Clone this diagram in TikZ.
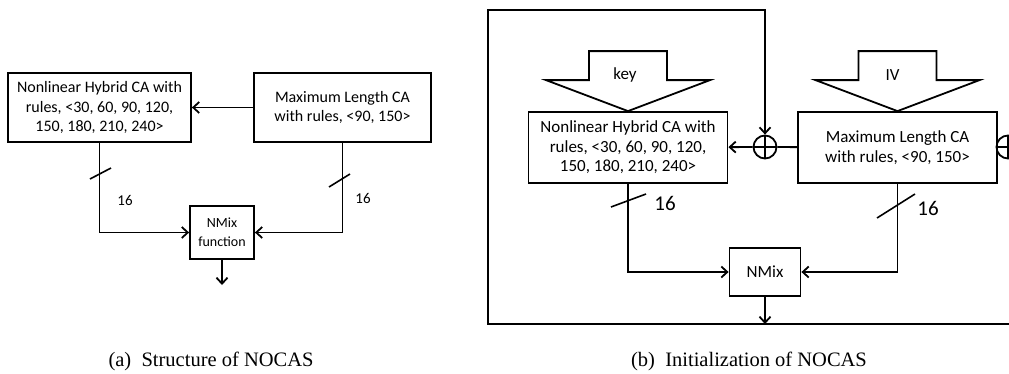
\documentclass[tikz,border=0pt]{standalone}
\usepackage{fontspec}
\setmainfont{Carlito}
\newfontfamily\capfont{Liberation Serif}
\usepackage{tikz}
\usetikzlibrary{arrows.meta, positioning, calc}

\begin{document}
\begin{tikzpicture}[
    x=1pt, y=-1pt,
    box/.style={draw, line width=1.8pt, align=center, inner sep=0pt, font=\fontsize{16}{19.5}\selectfont},
    bbox/.style={box, minimum width=199, minimum height=71, font=\fontsize{17}{19.5}\selectfont},
    xor/.style={draw, line width=1.8pt, circle, minimum size=23, inner sep=0pt,
        path picture={\draw[line width=1.8pt] (path picture bounding box.north) -- (path picture bounding box.south)
            (path picture bounding box.west) -- (path picture bounding box.east);}},
    arrow/.style={-{Straight Barb[length=6pt, width=11pt]}, line width=1.8pt},
    wire/.style={line width=1.8pt},
    slash/.style={line width=1.6pt},
    inport/.style={draw, line width=1.8pt},
    buswidth/.style={font=\fontsize{15}{15}\selectfont},
    caption/.style={font=\capfont\fontsize{20.5}{20.5}\selectfont}
]
    \path[use as bounding box, fill=white] (0,0) rectangle (1009,373);
    \clip (0,0) rectangle (1009,373);

    % === (a) Structure ===
    \node[box, minimum width=183, minimum height=69] (nlhA) at (99.5,107.5) {Nonlinear Hybrid CA with\\rules, <30, 60, 90, 120,\\150, 180, 210, 240>};
    \node[box, minimum width=177, minimum height=69] (mlA) at (342.5,107.5) {Maximum Length CA\\with rules, <90, 150>};
    \node[box, minimum width=64, minimum height=53, font=\fontsize{14}{19}\selectfont] (nmixA) at (222,232.5) {NMix\\function};
    \coordinate (outA) at (222,285);

    \draw[arrow] (mlA) -- (nlhA);
    \draw[arrow] (nlhA.south) |- (nmixA.west);
    \draw[arrow] (mlA.south) |- (nmixA.east);
    \draw[arrow] (nmixA) -- (outA);

    % 16-bit buses
    \draw[slash] (90,179) -- (111,168);
    \draw[slash] (329,187) -- (350,174);
    \node[buswidth] (wdA1) at (125,200) {16};
    \node[buswidth] (wdA2) at (363,198) {16};

    \node[caption] (capA) at (211,361) {(a)\enspace Structure of NOCAS};

    % === (b) Initialization ===
    \node[bbox] (nlhB) at (628,147.5) {Nonlinear Hybrid CA with\\rules, <30, 60, 90, 120,\\150, 180, 210, 240>};
    \node[bbox] (mlB) at (897.5,147.5) {Maximum Length CA\\with rules, <90, 150>};
    \node[box, minimum width=71, minimum height=48, font=\fontsize{17}{19}\selectfont] (nmixB) at (765,272) {NMix};
    \node[xor] (xorK) at (765,147) {};
    \node[xor] (xorV) at (1008,147) {};

    % key and IV inputs
    \draw[inport] (nlhB.north) -- ++(82,-31) -- ++(-43,0) -- ++(0,-29) -- ++(-78,0) -- ++(0,29) -- ++(-43,0) -- cycle;
    \draw[inport] (mlB.north) -- ++(82,-31) -- ++(-43,0) -- ++(0,-29) -- ++(-78,0) -- ++(0,29) -- ++(-43,0) -- cycle;
    \node[font=\fontsize{17}{17}\selectfont] (keyIn) at ($(nlhB.north)+(-3,-36)$) {key};
    \node[font=\fontsize{17}{17}\selectfont] (ivIn) at ($(mlB.north)+(-5,-36)$) {IV};

    % feedback frame
    \coordinate (frameTL) at (488,10);
    \coordinate (frameBL) at (488,324);
    \coordinate (frameBR) at (1020,324);
    \draw[arrow] (frameBR) -- (frameBL) -- (frameTL) -| (xorK.north);

    \draw[wire] (mlB) -- (xorK);
    \draw[arrow] (xorK) -- (nlhB);
    \draw[arrow] (nlhB.south) |- (nmixB.west);
    \draw[arrow] (mlB.south) |- (nmixB.east);
    \draw[arrow] (nmixB) -- (nmixB |- frameBL);

    % 16-bit buses
    \draw[slash] (611,207) -- (646,194);
    \draw[slash] (877,218) -- (915,194);
    \node[font=\fontsize{21}{21}\selectfont] (wdB1) at (665,203) {16};
    \node[font=\fontsize{21}{21}\selectfont] (wdB2) at (928,208) {16};

    \node[caption] (capB) at (749,361) {(b)\enspace Initialization of NOCAS};
\end{tikzpicture}
\end{document}
